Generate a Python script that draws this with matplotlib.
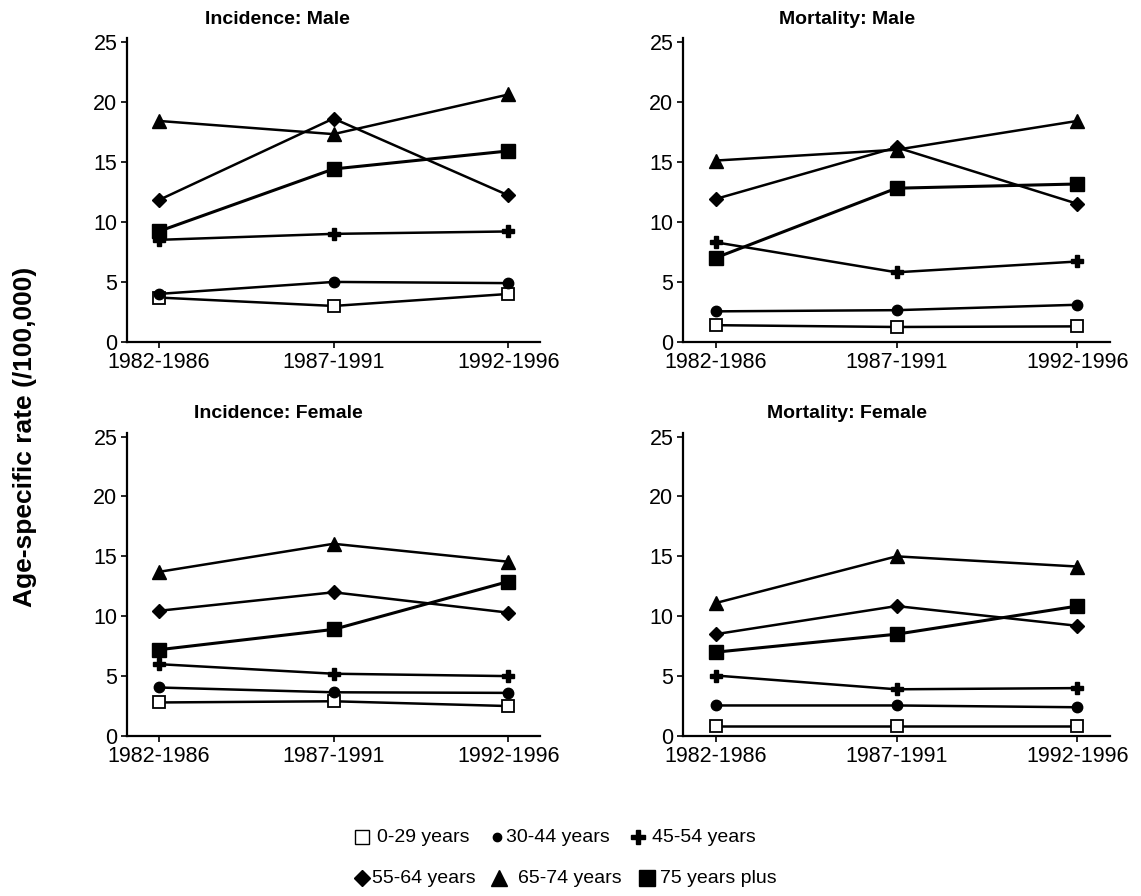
import matplotlib
matplotlib.use("Agg")
import matplotlib.pyplot as plt
from matplotlib.lines import Line2D

plt.rcParams['font.family'] = ['Liberation Sans', 'DejaVu Sans']

periods = ['1982-1986', '1987-1991', '1992-1996']
groups = ['0-29 years', '30-44 years', '45-54 years',
          '55-64 years', '65-74 years', '75 years plus']

# values, one list per age group
inc_male = [
    [3.7, 3.0, 4.0],
    [4.0, 5.0, 4.9],
    [8.5, 9.0, 9.2],
    [11.8, 18.6, 12.2],
    [18.4, 17.3, 20.6],
    [9.2, 14.4, 15.9],
]
mort_male = [
    [1.4, 1.25, 1.3],
    [2.55, 2.65, 3.1],
    [8.3, 5.8, 6.7],
    [11.9, 16.2, 11.5],
    [15.1, 16.0, 18.4],
    [7.0, 12.8, 13.15],
]
inc_female = [
    [2.8, 2.9, 2.5],
    [4.05, 3.65, 3.6],
    [6.0, 5.2, 5.0],
    [10.45, 12.0, 10.3],
    [13.7, 16.05, 14.55],
    [7.2, 8.9, 12.9],
]
mort_female = [
    [0.85, 0.85, 0.85],
    [2.55, 2.55, 2.4],
    [5.05, 3.9, 4.0],
    [8.5, 10.85, 9.2],
    [11.1, 15.0, 14.15],
    [7.0, 8.5, 10.85],
]

titles = ['Incidence: Male', 'Mortality: Male', 'Incidence: Female', 'Mortality: Female']
panels = [inc_male, mort_male, inc_female, mort_female]

# marker style per age group
markers = ['s', 'o', 'P', 'D', '^', 's']
msizes = [8, 7.5, 8.5, 7, 9.5, 9.5]
mfaces = ['white', 'black', 'black', 'black', 'black', 'black']
lwidths = [1.8, 1.8, 1.8, 1.8, 1.8, 2.2]

W, H = 1141, 896
fig = plt.figure(figsize=(W / 100, H / 100), dpi=100)

# axes boxes in pixels: left, top, right, bottom
boxes = [(127, 38, 540, 342), (683, 38, 1110, 342),
         (127, 433, 540, 736), (683, 433, 1110, 736)]
title_pos = [(277, 20), (847, 20), (278, 413), (847, 414)]

for k in range(4):
    l, t, r, b = boxes[k]
    ax = fig.add_axes([l / W, 1 - b / H, (r - l) / W, (b - t) / H])
    x = range(len(periods))
    for i in range(len(groups)):
        ax.plot(x, panels[k][i], color='black', lw=lwidths[i], marker=markers[i],
                ms=msizes[i], mfc=mfaces[i], mec='black', mew=1.3 if i == 0 else 1)
    ax.set_xlim(-0.18, 2.18)
    ax.set_ylim(0, 25.3)
    ax.set_yticks([0, 5, 10, 15, 20, 25])
    ax.set_xticks(list(x))
    ax.set_xticklabels(periods)
    for side in ['top', 'right']:
        ax.spines[side].set_visible(False)
    for side in ['left', 'bottom']:
        ax.spines[side].set_linewidth(1.6)
    ax.tick_params(axis='both', direction='out', length=4, width=1.2, labelsize=15.5, pad=3)
    ax.tick_params(axis='x', pad=3)
    fig.text(title_pos[k][0] / W, 1 - title_pos[k][1] / H, titles[k],
             ha='center', va='center', fontsize=14, fontweight='bold')

fig.text(25 / W, 1 - 437 / H, 'Age-specific rate (/100,000)', rotation=90,
         ha='center', va='center', fontsize=19, fontweight='bold')

# legend laid out by hand: marker centre x, text start x, row y (pixels)
leg_items = [(362, 377, 837), (497, 506, 837), (638, 652, 837),
             (362, 372, 878), (499, 518, 878), (647, 660, 878)]
leg_ms = [10, 6, 10, 8, 11, 11]
for i in range(len(groups)):
    mx, tx, ty = leg_items[i]
    fig.add_artist(Line2D([mx / W], [1 - ty / H], transform=fig.transFigure,
                          ls='none', marker=markers[i], ms=leg_ms[i],
                          mfc=mfaces[i], mec='black', mew=1))
    fig.text(tx / W, 1 - ty / H, groups[i], ha='left', va='center', fontsize=14)

fig.savefig('out.png', dpi=100)
